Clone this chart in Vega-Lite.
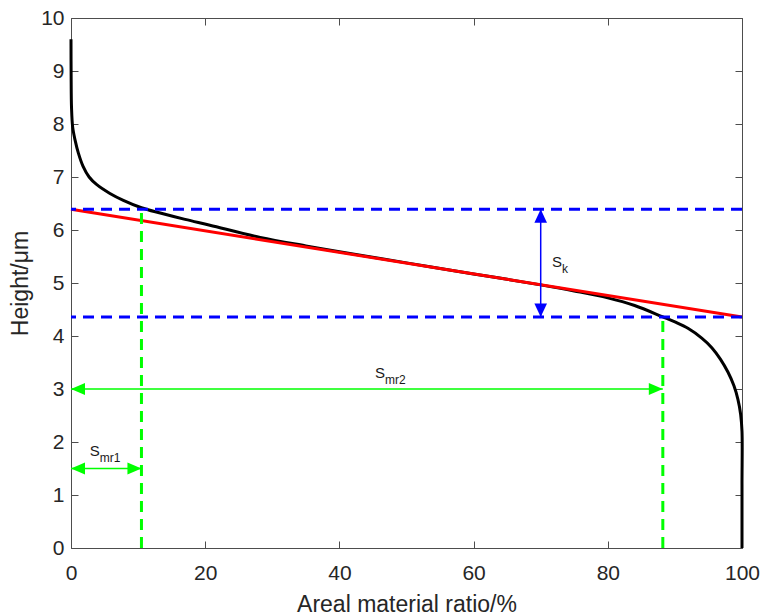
{
  "$schema": "https://vega.github.io/schema/vega-lite/v6.json",
  "autosize": {"type": "none"},
  "padding": {"left": 71, "top": 18, "right": 21, "bottom": 68},
  "width": 671,
  "height": 530,
  "background": "white",
  "config": {
    "view": {"stroke": null},
    "font": "Liberation Sans",
    "axis": {
      "grid": false,
      "domainColor": "#4d4d4d",
      "domainWidth": 1,
      "tickColor": "#4d4d4d",
      "tickWidth": 1,
      "tickSize": -7,
      "labelColor": "#262626",
      "labelFont": "Liberation Sans",
      "labelFontSize": 21,
      "titleColor": "#262626",
      "titleFont": "Liberation Sans",
      "titleFontSize": 23,
      "titleFontWeight": "normal",
      "labelOverlap": false,
      "labelBound": false,
      "labelFlush": false
    }
  },
  "resolve": {"axis": {"x": "independent", "y": "independent"}},
  "layer": [
    {
      "data": {"values": [
        {"i": 0, "x": 0, "y": 9.6},
        {"i": 1, "x": 0.02, "y": 8.9},
        {"i": 2, "x": 0.08, "y": 8.3},
        {"i": 3, "x": 0.25, "y": 7.94},
        {"i": 4, "x": 0.6, "y": 7.7},
        {"i": 5, "x": 1.1, "y": 7.45},
        {"i": 6, "x": 1.8, "y": 7.2},
        {"i": 7, "x": 2.7, "y": 7.0},
        {"i": 8, "x": 3.8, "y": 6.86},
        {"i": 9, "x": 5.8, "y": 6.69},
        {"i": 10, "x": 7.8, "y": 6.56},
        {"i": 11, "x": 10.5, "y": 6.42},
        {"i": 12, "x": 13.3, "y": 6.32},
        {"i": 13, "x": 17, "y": 6.2},
        {"i": 14, "x": 20.7, "y": 6.09},
        {"i": 15, "x": 28.2, "y": 5.86},
        {"i": 16, "x": 35, "y": 5.7},
        {"i": 17, "x": 40, "y": 5.59},
        {"i": 18, "x": 50, "y": 5.38},
        {"i": 19, "x": 60, "y": 5.17},
        {"i": 20, "x": 65, "y": 5.07},
        {"i": 21, "x": 70, "y": 4.965},
        {"i": 22, "x": 75, "y": 4.85},
        {"i": 23, "x": 80, "y": 4.72},
        {"i": 24, "x": 84, "y": 4.575},
        {"i": 25, "x": 88.2, "y": 4.36},
        {"i": 26, "x": 90, "y": 4.265},
        {"i": 27, "x": 92, "y": 4.14},
        {"i": 28, "x": 94, "y": 3.96},
        {"i": 29, "x": 95.5, "y": 3.78},
        {"i": 30, "x": 96.8, "y": 3.56},
        {"i": 31, "x": 97.9, "y": 3.32},
        {"i": 32, "x": 98.8, "y": 3.06},
        {"i": 33, "x": 99.4, "y": 2.8},
        {"i": 34, "x": 99.8, "y": 2.52},
        {"i": 35, "x": 100, "y": 2.2},
        {"i": 36, "x": 100, "y": 1.2},
        {"i": 37, "x": 100, "y": 0}
      ]},
      "mark": {"type": "line", "color": "#000000", "strokeWidth": 3, "interpolate": "catmull-rom"},
      "encoding": {
        "x": {"field": "x", "type": "quantitative",
              "scale": {"domain": [0, 100], "nice": false, "zero": false},
              "axis": {"orient": "bottom", "values": [0, 20, 40, 60, 80, 100],
                       "title": "Areal material ratio/%", "labelBaseline": "alphabetic",
                       "labelPadding": 38, "titleBaseline": "alphabetic", "titleY": 63}},
        "y": {"field": "y", "type": "quantitative",
              "scale": {"domain": [0, 10], "nice": false, "zero": false},
              "axis": {"orient": "left", "values": [0, 1, 2, 3, 4, 5, 6, 7, 8, 9, 10],
                       "title": "Height/μm", "labelPadding": 14,
                       "titleBaseline": "alphabetic", "titleX": -44}},
        "order": {"field": "i", "type": "quantitative"}
      }
    },
    {
      "data": {"values": [{"x": 0, "y": 6.39}, {"x": 100, "y": 4.36}]},
      "mark": {"type": "line", "color": "#ff0000", "strokeWidth": 3},
      "encoding": {
        "x": {"field": "x", "type": "quantitative",
              "axis": {"orient": "top", "values": [0, 20, 40, 60, 80, 100], "labels": false, "title": null}},
        "y": {"field": "y", "type": "quantitative",
              "axis": {"orient": "right", "values": [0, 1, 2, 3, 4, 5, 6, 7, 8, 9, 10], "labels": false, "title": null}}
      }
    },
    {
      "data": {"values": [{"y": 6.39}, {"y": 4.36}]},
      "mark": {"type": "rule", "color": "#0000ff", "strokeWidth": 3, "strokeDash": [11, 7]},
      "encoding": {
        "y": {"field": "y", "type": "quantitative", "axis": null}
      }
    },
    {
      "data": {"values": [{"x": 10.5, "y0": 0, "y1": 6.39}, {"x": 88.2, "y0": 0, "y1": 4.36}]},
      "mark": {"type": "rule", "color": "#00ff00", "strokeWidth": 3, "strokeDash": [11, 7]},
      "encoding": {
        "x": {"field": "x", "type": "quantitative", "axis": null},
        "y": {"field": "y0", "type": "quantitative", "axis": null},
        "y2": {"field": "y1"}
      }
    },
    {
      "data": {"values": [{"x": 70, "y0": 6.39, "y1": 4.36}]},
      "mark": {"type": "rule", "color": "#0000ff", "strokeWidth": 1.5},
      "encoding": {
        "x": {"field": "x", "type": "quantitative", "axis": null},
        "y": {"field": "y0", "type": "quantitative", "axis": null},
        "y2": {"field": "y1"}
      }
    },
    {
      "data": {"values": [{"x0": 0, "x1": 88.2, "y": 3}, {"x0": 0, "x1": 10.5, "y": 1.5}]},
      "mark": {"type": "rule", "color": "#00ff00", "strokeWidth": 1.5},
      "encoding": {
        "x": {"field": "x0", "type": "quantitative", "axis": null},
        "x2": {"field": "x1"},
        "y": {"field": "y", "type": "quantitative", "axis": null}
      }
    },
    {
      "data": {"values": [
        {"arrow": "Sk", "x": 70, "y": 6.39, "dir": "up"},
        {"arrow": "Sk", "x": 70, "y": 4.36, "dir": "down"},
        {"arrow": "Smr2", "x": 0, "y": 3, "dir": "left"},
        {"arrow": "Smr2", "x": 88.2, "y": 3, "dir": "right"},
        {"arrow": "Smr1", "x": 0, "y": 1.5, "dir": "left"},
        {"arrow": "Smr1", "x": 10.5, "y": 1.5, "dir": "right"}
      ]},
      "mark": {"type": "point", "filled": true, "opacity": 1, "size": 196, "strokeWidth": 0},
      "encoding": {
        "x": {"field": "x", "type": "quantitative", "axis": null},
        "y": {"field": "y", "type": "quantitative", "axis": null},
        "shape": {"field": "dir", "type": "nominal", "legend": null,
                  "scale": {"domain": ["left", "right", "up", "down"],
                            "range": ["M0,0L2,-0.85L2,0.85Z", "M0,0L-2,-0.85L-2,0.85Z", "M0,0L-0.9,1.9L0.9,1.9Z", "M0,0L-0.9,-1.9L0.9,-1.9Z"]}},
        "color": {"field": "arrow", "type": "nominal", "legend": null,
                  "scale": {"domain": ["Sk", "Smr2", "Smr1"], "range": ["#0000ff", "#00ff00", "#00ff00"]}}
      }
    },
    {
      "data": {"values": [
        {"main": "S", "sub": "k", "x": 71.7, "y": 5.31},
        {"main": "S", "sub": "mr2", "x": 45.3, "y": 3.21},
        {"main": "S", "sub": "mr1", "x": 2.8, "y": 1.74}
      ]},
      "layer": [
        {
          "mark": {"type": "text", "align": "left", "baseline": "alphabetic", "fontSize": 15, "color": "#1a1a1a", "font": "Liberation Sans"},
          "encoding": {
            "x": {"field": "x", "type": "quantitative", "axis": null},
            "y": {"field": "y", "type": "quantitative", "axis": null},
            "text": {"field": "main"}
          }
        },
        {
          "mark": {"type": "text", "align": "left", "baseline": "alphabetic", "fontSize": 12, "dx": 10, "dy": 6, "color": "#1a1a1a", "font": "Liberation Sans"},
          "encoding": {
            "x": {"field": "x", "type": "quantitative", "axis": null},
            "y": {"field": "y", "type": "quantitative", "axis": null},
            "text": {"field": "sub"}
          }
        }
      ]
    }
  ]
}
